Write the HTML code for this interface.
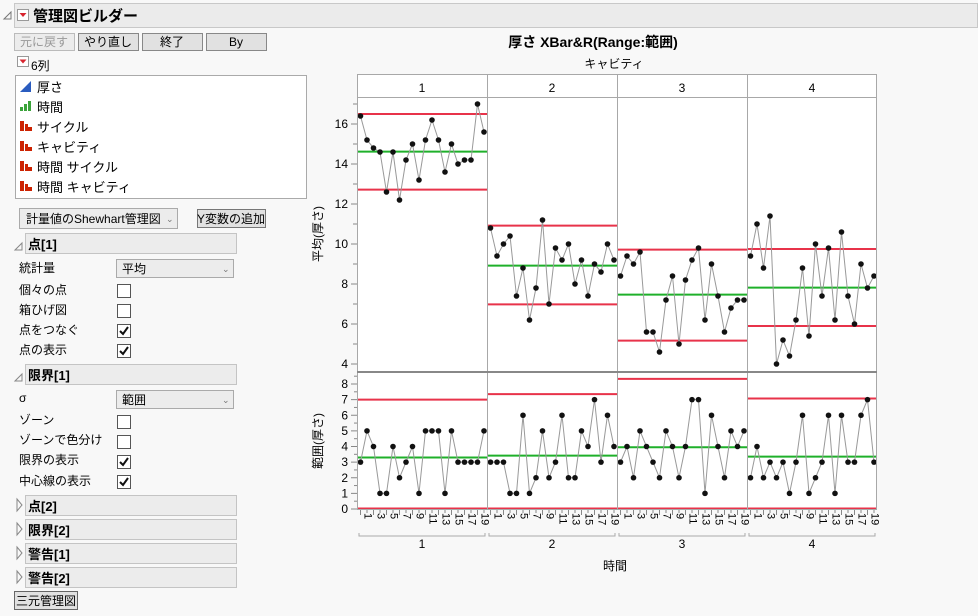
<!DOCTYPE html>
<html><head><meta charset="utf-8">
<style>
html,body{margin:0;padding:0;background:#f8f8f8;}
svg{display:block;font-family:"Liberation Sans","Noto Sans CJK JP",sans-serif;}
</style></head>
<body>
<svg id="s" width="978" height="616" viewBox="0 0 978 616" xmlns="http://www.w3.org/2000/svg">
<rect width="978" height="616" fill="#f8f8f8"/>
<rect x="14.5" y="3.5" width="963" height="24" fill="#ebebeb" stroke="#c8c8c8"/>
<path d="M4 19 L11 12 L11 19 Z" fill="none" stroke="#777"/>
<rect x="17.5" y="9.5" width="11" height="11" fill="#fff" stroke="#999"/>
<path d="M19.5 13 L26.5 13 L23 17 Z" fill="#d8242e"/>
<text x="33" y="21" font-size="15" font-weight="bold" fill="#000">管理図ビルダー</text>
<g font-size="12" text-anchor="middle">
<rect x="14.5" y="33.5" width="60" height="17" fill="#ececec" stroke="#bbb"/><text x="44" y="46" fill="#999">元に戻す</text>
<rect x="78.5" y="33.5" width="60" height="17" fill="#e1e1e1" stroke="#888"/><text x="108" y="46">やり直し</text>
<rect x="142.5" y="33.5" width="60" height="17" fill="#e1e1e1" stroke="#888"/><text x="172" y="46">終了</text>
<rect x="206.5" y="33.5" width="60" height="17" fill="#e1e1e1" stroke="#888"/><text x="236" y="46">By</text>
</g>
<rect x="17.5" y="56.5" width="11" height="10" fill="#fff" stroke="#999"/>
<path d="M19.5 59.5 L26.5 59.5 L23 63.5 Z" fill="#d8242e"/>
<text x="31" y="70" font-size="12">6列</text>
<rect x="15.5" y="75.5" width="291" height="123" fill="#fff" stroke="#aaa"/>
<path d="M20 92 L31 81 L31 92 Z" fill="#2a5cbf"/>
<g fill="#3aa33a"><rect x="20" y="107" width="3" height="4"/><rect x="24" y="104" width="3" height="7"/><rect x="28" y="101" width="3" height="10"/></g>
<g fill="#cc2200">
<rect x="20" y="121" width="4" height="10"/><rect x="25" y="124" width="3" height="7"/><rect x="28" y="127" width="4" height="4"/>
<rect x="20" y="141" width="4" height="10"/><rect x="25" y="144" width="3" height="7"/><rect x="28" y="147" width="4" height="4"/>
<rect x="20" y="161" width="4" height="10"/><rect x="25" y="164" width="3" height="7"/><rect x="28" y="167" width="4" height="4"/>
<rect x="20" y="181" width="4" height="10"/><rect x="25" y="184" width="3" height="7"/><rect x="28" y="187" width="4" height="4"/>
</g>
<g font-size="13">
<text x="37" y="92">厚さ</text><text x="37" y="112">時間</text><text x="37" y="132">サイクル</text>
<text x="37" y="152">キャビティ</text><text x="37" y="172">時間 サイクル</text><text x="37" y="192">時間 キャビティ</text>
</g>
<rect x="19.5" y="208.5" width="158" height="20" fill="#ececec" stroke="#aaa"/>
<text x="26" y="223" font-size="12">計量値のShewhart管理図</text><text x="166" y="222" font-size="9" fill="#777">⌄</text>
<rect x="197.5" y="209.5" width="68" height="18" fill="#e1e1e1" stroke="#777"/>
<text x="231" y="223" font-size="12" text-anchor="middle">Y変数の追加</text>
<g font-size="13" font-weight="bold">
<path d="M15 250 L22 243 L22 250 Z" fill="none" stroke="#888"/>
<rect x="25.5" y="233.5" width="211" height="20" fill="#ececec" stroke="#c4c4c4"/><text x="28" y="249">点[1]</text>
<path d="M15 381 L22 374 L22 381 Z" fill="none" stroke="#888"/>
<rect x="25.5" y="364.5" width="211" height="20" fill="#ececec" stroke="#c4c4c4"/><text x="28" y="380">限界[1]</text>
<path d="M17 499 L22 505 L17 511 Z" fill="none" stroke="#888"/>
<rect x="25.5" y="495.5" width="211" height="20" fill="#ececec" stroke="#c4c4c4"/><text x="28" y="511">点[2]</text>
<path d="M17 523 L22 529 L17 535 Z" fill="none" stroke="#888"/>
<rect x="25.5" y="519.5" width="211" height="20" fill="#ececec" stroke="#c4c4c4"/><text x="28" y="535">限界[2]</text>
<path d="M17 547 L22 553 L17 559 Z" fill="none" stroke="#888"/>
<rect x="25.5" y="543.5" width="211" height="20" fill="#ececec" stroke="#c4c4c4"/><text x="28" y="559">警告[1]</text>
<path d="M17 571 L22 577 L17 583 Z" fill="none" stroke="#888"/>
<rect x="25.5" y="567.5" width="211" height="20" fill="#ececec" stroke="#c4c4c4"/><text x="28" y="583">警告[2]</text>
</g>
<g font-size="12">
<text x="19" y="272">統計量</text>
<rect x="116.5" y="259.5" width="117" height="18" fill="#ececec" stroke="#aaa"/><text x="122" y="273">平均</text><text x="222" y="272" font-size="9" fill="#777">⌄</text>
<text x="19" y="294">個々の点</text><text x="19" y="314">箱ひげ図</text><text x="19" y="334">点をつなぐ</text><text x="19" y="354">点の表示</text>
<text x="19" y="402">σ</text>
<rect x="116.5" y="390.5" width="117" height="18" fill="#ececec" stroke="#aaa"/><text x="122" y="404">範囲</text><text x="222" y="403" font-size="9" fill="#777">⌄</text>
<text x="19" y="424">ゾーン</text><text x="19" y="444">ゾーンで色分け</text><text x="19" y="464">限界の表示</text><text x="19" y="485">中心線の表示</text>
<rect x="14.5" y="591.5" width="63" height="18" fill="#e1e1e1" stroke="#666"/><text x="46" y="605" text-anchor="middle">三元管理図</text>
</g>
<g fill="#fff" stroke="#555">
<rect x="117.5" y="284.5" width="13" height="13"/><rect x="117.5" y="304.5" width="13" height="13"/>
<rect x="117.5" y="324.5" width="13" height="13"/><rect x="117.5" y="344.5" width="13" height="13"/>
<rect x="117.5" y="415.5" width="13" height="13"/><rect x="117.5" y="435.5" width="13" height="13"/>
<rect x="117.5" y="455.5" width="13" height="13"/><rect x="117.5" y="475.5" width="13" height="13"/>
</g>
<g fill="none" stroke="#111" stroke-width="2">
<path d="M120 331 L123 334 L128 327"/><path d="M120 351 L123 354 L128 347"/>
<path d="M120 462 L123 465 L128 458"/><path d="M120 482 L123 485 L128 478"/>
</g>
<text x="593" y="47" font-size="14" font-weight="bold" text-anchor="middle">厚さ  XBar&amp;R(Range:範囲)</text>
<text x="614" y="68" font-size="12" text-anchor="middle">キャビティ</text>
<rect x="357" y="74" width="520" height="23" fill="#fff"/>
<g font-size="12" text-anchor="middle"><text x="422" y="92">1</text><text x="552" y="92">2</text><text x="682" y="92">3</text><text x="812" y="92">4</text></g>
<rect x="357" y="97" width="520" height="413" fill="#fff"/>
<text transform="translate(322,234) rotate(-90)" font-size="12" text-anchor="middle">平均(厚さ)</text>
<text transform="translate(322,441) rotate(-90)" font-size="12" text-anchor="middle">範囲(厚さ)</text>
<text x="615" y="570" font-size="12" text-anchor="middle">時間</text>
<g id="g"></g>
</svg>
<script>
(function(){
var NS="http://www.w3.org/2000/svg",g=document.getElementById("g");
function el(t,a,txt){var e=document.createElementNS(NS,t);for(var k in a)e.setAttribute(k,a[k]);if(txt!=null)e.textContent=txt;g.appendChild(e);return e;}
var tv=[[16.4,15.2,14.8,14.6,12.6,14.6,12.2,14.2,15,13.2,15.2,16.2,15.2,13.6,15,14,14.2,14.2,17,15.6],
[10.8,9.4,10,10.4,7.4,8.8,6.2,7.8,11.2,7,9.8,9.2,10,8,9.2,7.4,9,8.6,10,9.2],
[8.4,9.4,9,9.6,5.6,5.6,4.6,7.2,8.4,5,8.2,9.2,9.8,6.2,9,7.4,5.6,6.8,7.2,7.2],
[9.4,11,8.8,11.4,4,5.2,4.4,6.2,8.8,5.4,10,7.4,9.8,6.2,10.6,7.4,6,9,7.8,8.4]];
var tl=[[16.5,14.62,12.72],[10.92,8.92,6.98],[9.72,7.47,5.17],[9.75,7.82,5.9]];
var rg=[[3,5,4,1,1,4,2,3,4,1,5,5,5,1,5,3,3,3,3,5],[3,3,3,1,1,6,1,2,5,2,3,6,2,2,5,4,7,3,6,4],
[3,4,2,5,4,3,2,5,4,2,4,7,7,1,6,4,2,5,4,5],[2,4,2,3,2,3,1,3,6,1,2,3,6,1,6,3,3,6,7,3]];
var rl=[[7,3.3],[7.35,3.42],[8.33,3.95],[7.07,3.35]];
function yt(v){return 124+(16-v)*20;}function yb(v){return 509-v*15.625;}
var RED="#e8334a",GRN="#1fb02a";
function hl(L,R,y,c){el("line",{x1:L,x2:R,y1:y,y2:y,stroke:c,"stroke-width":2});}
for(var p=0;p<4;p++){var L=357+p*130,R=L+130;
 hl(L,R,yt(tl[p][0]),RED);hl(L,R,yt(tl[p][1]),GRN);hl(L,R,yt(tl[p][2]),RED);
 hl(L,R,yb(rl[p][0]),RED);hl(L,R,yb(rl[p][1]),GRN);hl(L,R,508.5,RED);
 var a="",b="";for(var i=0;i<20;i++){var x=L+3.5+i*6.5;a+=x+","+yt(tv[p][i])+" ";b+=x+","+yb(rg[p][i])+" ";}
 el("polyline",{points:a,fill:"none",stroke:"#999","stroke-width":1});
 el("polyline",{points:b,fill:"none",stroke:"#999","stroke-width":1});
 for(var i=0;i<20;i++){var x=L+3.5+i*6.5;el("circle",{cx:x,cy:yt(tv[p][i]),r:2.8,fill:"#111"});el("circle",{cx:x,cy:yb(rg[p][i]),r:2.8,fill:"#111"});
  el("line",{x1:x,x2:x,y1:510,y2:i%2?513:515,stroke:"#888"});
  if(i%2==0)el("text",{transform:"translate("+(x+4)+",513) rotate(90)","font-size":"11"},String(i+1));}
 el("path",{d:"M"+(L+2)+" 533 V536 H"+(R-2)+" V533",fill:"none",stroke:"#aaa"});
 el("text",{x:L+65,y:548,"font-size":"12","text-anchor":"middle"},String(p+1));
}
el("rect",{x:357.5,y:74.5,width:519,height:435,fill:"none",stroke:"#a8a8a8"});
for(var p=1;p<4;p++)el("line",{x1:357+p*130+.5,x2:357+p*130+.5,y1:74,y2:510,stroke:"#a8a8a8"});
el("line",{x1:357,x2:877,y1:97.5,y2:97.5,stroke:"#a8a8a8"});
el("line",{x1:357,x2:877,y1:372,y2:372,stroke:"#888","stroke-width":2});
for(var v=4;v<=17;v++){var y=yt(v);el("line",{x1:v%2?353:351,x2:357,y1:y,y2:y,stroke:"#888"});if(v%2==0)el("text",{x:348,y:y+4,"font-size":"12","text-anchor":"end"},String(v));}
for(var v=0;v<=8.5;v+=0.5){var y=yb(v);el("line",{x1:v%1?354:351,x2:357,y1:y,y2:y,stroke:"#888"});if(v%1==0)el("text",{x:348,y:y+4,"font-size":"12","text-anchor":"end"},String(v));}
})();
</script>
</body></html>
